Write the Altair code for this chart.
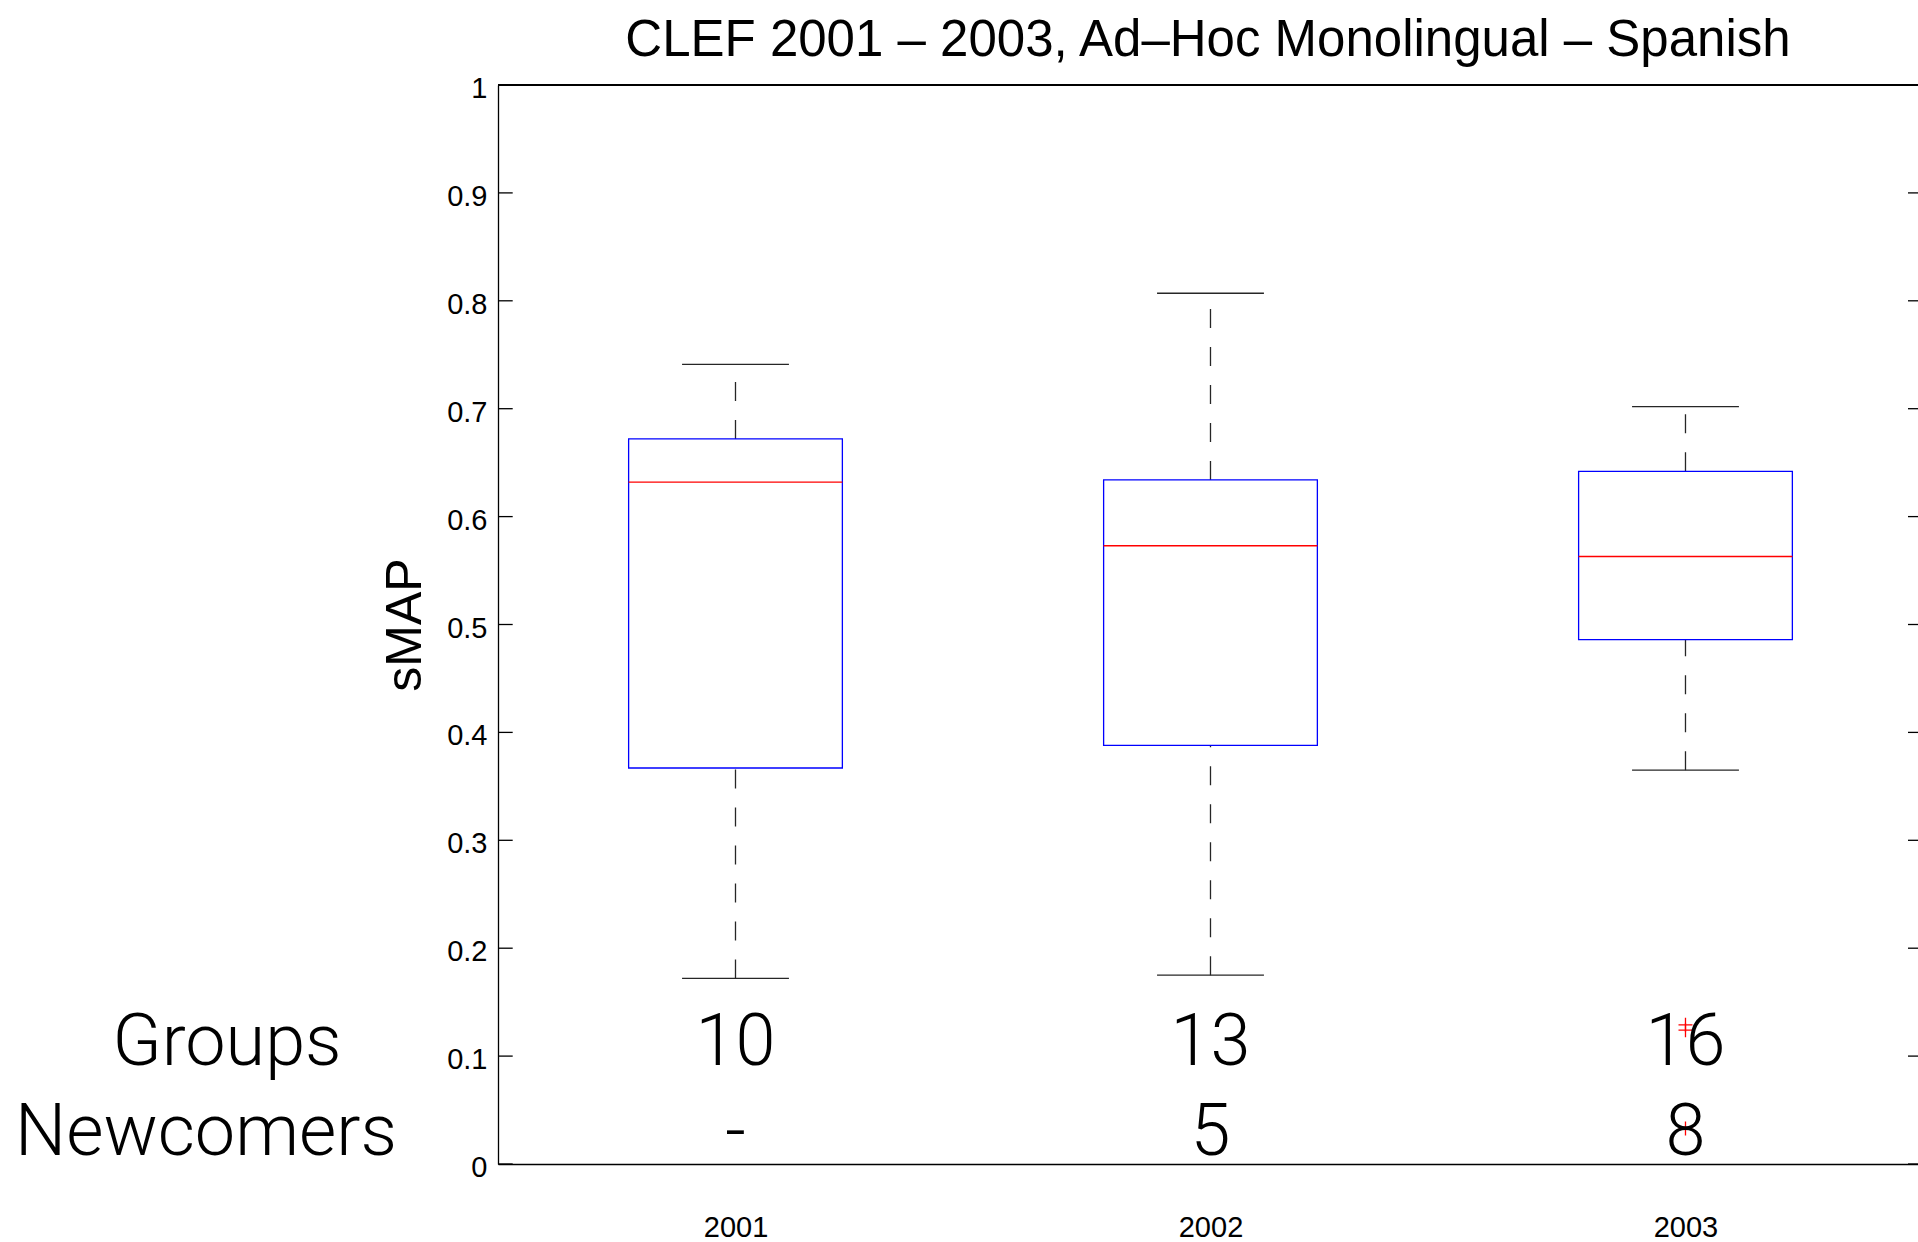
import json
import altair as alt
import pandas as pd

# ---- data ----
years = ["2001", "2002", "2003"]
positions = [1, 2, 3]
whisker_low = [0.172, 0.175, 0.365]
quartile_1 = [0.367, 0.388, 0.486]
medians = [0.632, 0.573, 0.563]
quartile_3 = [0.672, 0.634, 0.642]
whisker_high = [0.741, 0.807, 0.702]

outlier_pos = [3, 3, 3]
outlier_val = [0.129, 0.124, 0.033]

groups_counts = ["10", "13", "16"]
newcomer_counts = ["-", "5", "8"]
row_names = ["Groups", "Newcomers"]
row_levels = [0.092, 0.008]

y_ticks = [0, 0.1, 0.2, 0.3, 0.4, 0.5, 0.6, 0.7, 0.8, 0.9, 1]

title_text = "CLEF 2001 \u2013 2003, Ad\u2013Hoc Monolingual \u2013 Spanish"

# ---- layout / style ----
W, H = 1420, 1079
BOX_HALF = 0.225
CAP_HALF = 0.1125
TICK_LEN = 14.7
LINE_W = 1.3
WHISKER_COLOR = "#262626"
MAIN_FONT = "Liberation Sans"
OVERLAY_FONT = "Roboto"

box_df = pd.DataFrame({
    "pos": positions, "year": years, "lo_w": whisker_low, "q1": quartile_1,
    "med": medians, "q3": quartile_3, "hi_w": whisker_high,
})
out_df = pd.DataFrame({"pos": outlier_pos, "val": outlier_val})
count_df = pd.DataFrame({
    "pos": positions * 2,
    "level": [row_levels[0]] * 3 + [row_levels[1]] * 3,
    "txt": groups_counts + newcomer_counts,
})
row_df = pd.DataFrame({"name": row_names, "level": row_levels, "anchor": [-0.0705, -0.1147]})
tick_df = pd.DataFrame({"v": y_ticks})

x_scale = alt.Scale(domain=[0.5, 3.4895], nice=False, zero=False)
y_scale = alt.Scale(domain=[0, 1], nice=False, zero=False)

x_axis = alt.Axis(
    values=positions, labelExpr=json.dumps(years) + "[datum.value - 1]",
    grid=False, ticks=False, tickSize=0, domainColor="black", domainWidth=LINE_W,
    labelFont=MAIN_FONT, labelFontSize=29, labelColor="black", labelPadding=72,
    labelBaseline="alphabetic", labelFlush=False, labelOverlap=False, title="",
)
y_axis = alt.Axis(
    values=y_ticks, format="~g", grid=False, ticks=False, tickSize=0,
    domainColor="black", domainWidth=LINE_W,
    labelFont=MAIN_FONT, labelFontSize=29, labelColor="black", labelPadding=11,
    labelBaseline="alphabetic", labelOffset=12.5, labelFlush=False, labelOverlap=False,
    title="sMAP", titleFont=MAIN_FONT, titleFontSize=50, titleFontWeight="normal",
    titleColor="black", titleAngle=270, titleAlign="center", titleBaseline="alphabetic",
    titleX=-78, titleY=H / 2,
)


def X(field):
    return alt.X(field, type="quantitative", scale=x_scale, axis=x_axis)


def Y(field):
    return alt.Y(field, type="quantitative", scale=y_scale, axis=y_axis)


base = alt.Chart(box_df).transform_calculate(
    lo=f"datum.pos - {BOX_HALF}", hi=f"datum.pos + {BOX_HALF}",
    clo=f"datum.pos - {CAP_HALF}", chi=f"datum.pos + {CAP_HALF}",
)

tick_left = alt.Chart(tick_df).mark_rule(color="black", strokeWidth=LINE_W).encode(
    y=Y("v"), x=alt.value(0), x2=alt.value(TICK_LEN))
tick_right = alt.Chart(tick_df).mark_rule(color="black", strokeWidth=LINE_W).encode(
    y=Y("v"), x=alt.value(W - 10), x2=alt.value(W))
top_border = alt.Chart(tick_df).mark_rule(color="black", strokeWidth=LINE_W).encode(
    y=alt.value(0), x=alt.value(0), x2=alt.value(W))

whisk_up = base.mark_rule(color=WHISKER_COLOR, strokeWidth=LINE_W, strokeDash=[19, 19]).encode(
    x=X("pos"), y=Y("q3"), y2="hi_w")
whisk_dn = base.mark_rule(color=WHISKER_COLOR, strokeWidth=LINE_W, strokeDash=[19, 19]).encode(
    x=X("pos"), y=Y("lo_w"), y2="q1")
cap_up = base.mark_rule(color=WHISKER_COLOR, strokeWidth=LINE_W).encode(
    x=X("clo"), x2="chi", y=Y("hi_w"))
cap_dn = base.mark_rule(color=WHISKER_COLOR, strokeWidth=LINE_W).encode(
    x=X("clo"), x2="chi", y=Y("lo_w"))
box = base.mark_rect(stroke="#0000ff", strokeWidth=LINE_W, fillOpacity=0, fill="white").encode(
    x=X("lo"), x2="hi", y=Y("q1"), y2="q3")
med = base.mark_rule(color="#ff0000", strokeWidth=LINE_W).encode(
    x=X("lo"), x2="hi", y=Y("med"))
outl = alt.Chart(out_df).mark_point(
    shape="M-1,0L1,0M0,-1L0,1", filled=False, color="#ff0000", size=196,
    strokeWidth=LINE_W, opacity=1).encode(x=X("pos"), y=Y("val"))
counts = alt.Chart(count_df).mark_text(
    font=OVERLAY_FONT, fontWeight=300, fontSize=72, baseline="alphabetic",
    align="center", color="black").encode(x=X("pos"), y=Y("level"), text="txt:N")
rows = alt.Chart(row_df).mark_text(
    font=OVERLAY_FONT, fontWeight=300, fontSize=72, baseline="alphabetic",
    align="center", color="black").encode(x=X("anchor"), y=Y("level"), text="name:N")

chart = alt.layer(
    tick_left, tick_right, top_border, whisk_up, whisk_dn, cap_up, cap_dn,
    box, med, outl, counts, rows,
).properties(
    width=W, height=H,
    title=alt.TitleParams(text=title_text, font=MAIN_FONT, fontSize=51,
                          fontWeight="normal", color="black", baseline="alphabetic",
                          offset=29, dy=61, anchor="middle"),
    autosize=alt.AutoSizeParams(type="none"),
    padding={"left": 498, "top": 85, "right": 0, "bottom": 78},
    background="white",
).configure_view(strokeWidth=0)

chart.save("out.html", embed_options={"renderer": "svg", "actions": False})
